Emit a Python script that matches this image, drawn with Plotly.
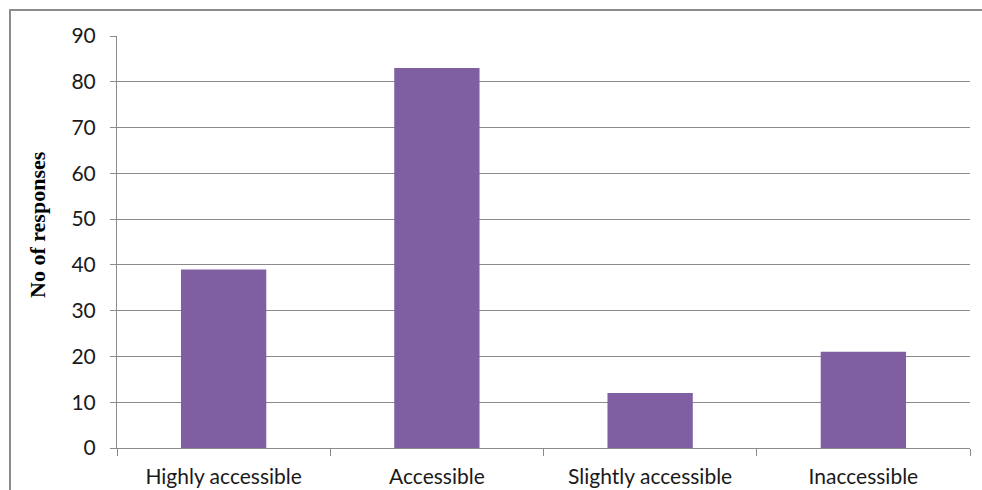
import plotly.graph_objects as go

# Survey responses on accessibility
categories = ["Highly accessible", "Accessible", "Slightly accessible", "Inaccessible"]
responses = [39, 83, 12, 21]
y_ticks = [0, 10, 20, 30, 40, 50, 60, 70, 80, 90]

W, H = 982, 490
L, R, T, B = 117, 12, 36, 42
pw, ph = W - L - R, H - T - B

fig = go.Figure(
    go.Bar(
        x=categories,
        y=responses,
        marker=dict(color="#7F5FA1", line=dict(width=0)),
        width=0.4,
    )
)

grid = "#8A8A8A"
fig.update_layout(
    width=W,
    height=H,
    margin=dict(l=L, r=R, t=T, b=B),
    paper_bgcolor="white",
    plot_bgcolor="white",
    showlegend=False,
    font=dict(family="Lato, Open Sans, sans-serif", size=21, color="#1a1a1a"),
    xaxis=dict(
        showline=True,
        linecolor=grid,
        linewidth=1,
        ticks="outside",
        tickson="boundaries",
        ticklen=7,
        tickcolor=grid,
        showgrid=False,
        tickfont=dict(size=21),
        ticklabelstandoff=10,
        automargin=False,
        range=[-0.5, 3.5],
    ),
    yaxis=dict(
        range=[0, 90],
        tickvals=y_ticks,
        showline=True,
        linecolor=grid,
        linewidth=1,
        ticks="outside",
        ticklen=6,
        tickcolor=grid,
        showgrid=True,
        gridcolor=grid,
        gridwidth=1,
        zeroline=False,
        tickfont=dict(size=21),
        ticklabelstandoff=10,
        automargin=False,
    ),
    annotations=[
        dict(
            text="<b>No of responses</b>",
            xref="paper",
            yref="paper",
            x=(37 - L) / pw,
            y=(H - B - 225) / ph,
            showarrow=False,
            textangle=-90,
            xanchor="center",
            yanchor="middle",
            font=dict(family="Liberation Serif, Times New Roman, serif", size=22, color="#000000"),
        )
    ],
    shapes=[
        dict(
            type="rect",
            xref="paper",
            yref="paper",
            x0=(10 - L) / pw,
            x1=(W + 20 - L) / pw,
            y0=(H - B - (H + 20)) / ph,
            y1=(H - B - 10) / ph,
            line=dict(color="#8C8C8C", width=2),
            layer="below",
        )
    ],
)

fig.write_html("out.html")
